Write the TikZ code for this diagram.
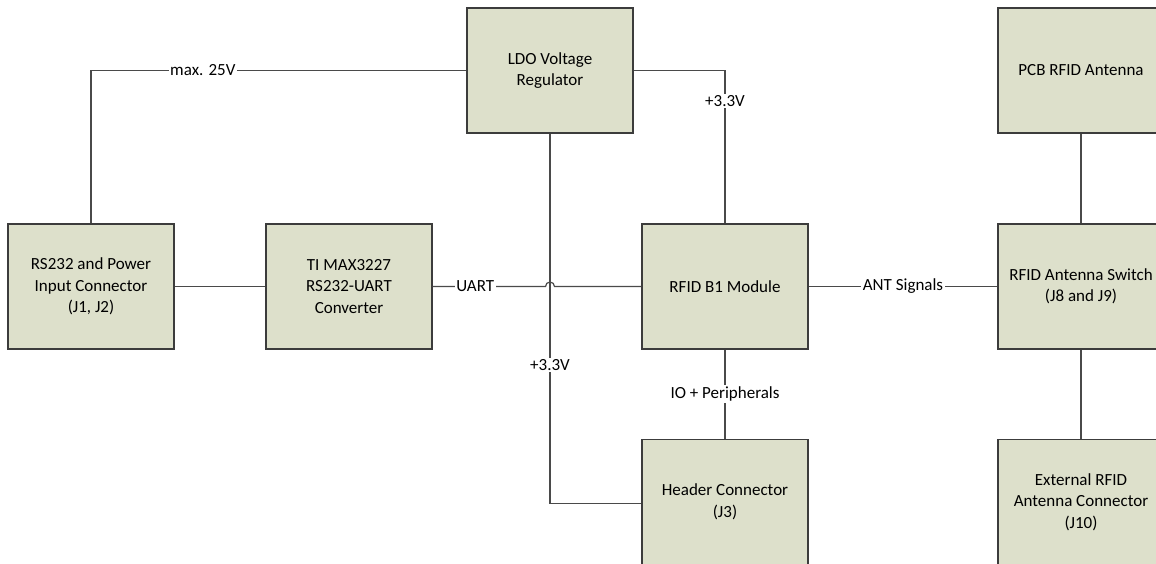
\documentclass[tikz,border=0pt]{standalone}
\usepackage{fontspec}
\setmainfont{Carlito}
\usepackage{tikz}
\usetikzlibrary{calc}
\usepackage{xcolor}
\definecolor{boxfill}{HTML}{DDE0CB}
\definecolor{boxline}{HTML}{3C3C3C}
\definecolor{wireline}{HTML}{4A4A4A}

\begin{document}
\begin{tikzpicture}[x=1pt,y=-1pt,font=\fontsize{17}{21.5}\selectfont,
		block/.style={draw=boxline,line width=1.4pt,fill=boxfill,minimum width=166pt,
			minimum height=125pt,align=center,inner sep=0pt},
		wire/.style={draw=wireline,line width=1.2pt},
		lbl/.style={fill=white,inner sep=1.5pt,font=\fontsize{17}{19}\selectfont}]
	\useasboundingbox (0,0) rectangle (1156,563);
	\clip (0,0) rectangle (1156,563);
	\node[block] (rs) at (91,286.5) {RS232 and Power\\Input Connector\\(J1, J2)};
	\node[block] (ti) at (349,286.5) {TI MAX3227\\RS232-UART\\Converter};
	\node[block] (ldo) at (550,70.5) {LDO Voltage\\Regulator};
	\node[block] (rfid) at (725,286.5) {RFID B1 Module};
	\node[block] (hdr) at (725,502) {Header Connector\\(J3)};
	\node[block] (pcb) at (1081,70.5) {PCB RFID Antenna};
	\node[block] (sw) at (1081,286.5) {RFID Antenna Switch\\(J8 and J9)};
	\node[block] (ext) at (1081,502) {External RFID\\Antenna Connector\\(J10)};
	\draw[wire] (rs.north) |- (ldo.west) node[lbl,pos=0.649]{max. 25V};
	\draw[wire] (ldo.east) -| (rfid.north) node[lbl,pos=0.6]{+3.3V};
	\draw[wire] (ldo.south) |- ([yshift=-1.5pt]hdr.west) node[lbl,pos=0.313]{+3.3V};
	\draw[wire] (rs.east) -- (ti.east -| ti.west);
	\draw[wire] (ti.east) -- ([xshift=-4.5pt]ti.east -| ldo.south) node[lbl,pos=0.377]{UART}
		arc[start angle=180,end angle=0,radius=4.5pt] -- (rfid.west);
	\draw[wire] (rfid.east) -- (sw.west) node[lbl,midway]{ANT Signals};
	\draw[wire] (rfid.south) -- (hdr.north) node[lbl,midway]{IO + Peripherals};
	\draw[wire] (pcb.south) -- (sw.north);
	\draw[wire] (sw.south) -- (ext.north);
\end{tikzpicture}
\end{document}
